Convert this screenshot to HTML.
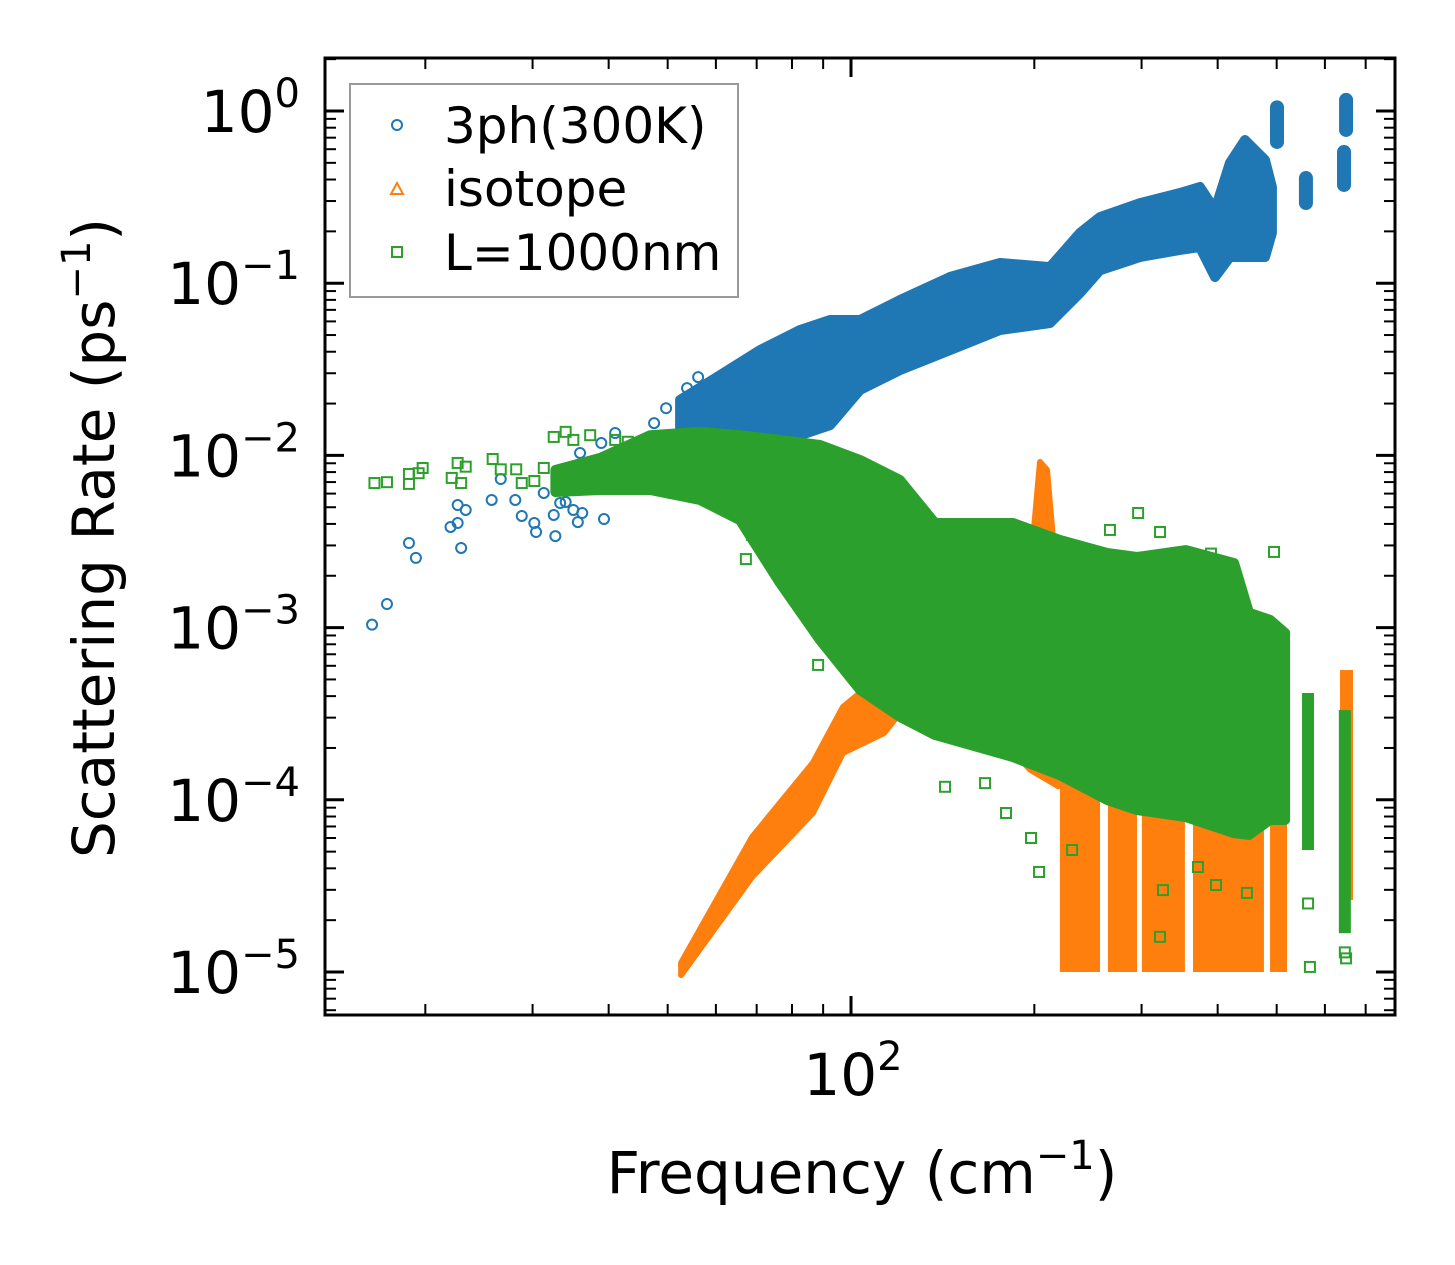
<!DOCTYPE html>
<html><head><meta charset="utf-8">
<style>
html,body{margin:0;padding:0;background:#fff;}
svg{display:block;font-family:"DejaVu Sans","Liberation Sans",sans-serif;}
</style></head>
<body>
<svg id="chart" width="1455" height="1265" viewBox="0 0 1455 1265" xmlns="http://www.w3.org/2000/svg">
<rect x="0" y="0" width="1455" height="1265" fill="#fff"/>
<defs><clipPath id="plotclip"><rect x="325" y="58" width="1070" height="957"/></clipPath></defs>
<g id="marks" clip-path="url(#plotclip)"></g>
<g id="axes"></g>
<rect x="325" y="58" width="1070" height="957" fill="none" stroke="#000" stroke-width="3"/>
<text x="114" y="538" font-size="58" text-anchor="middle" transform="rotate(-90 114 538)">Scattering Rate (ps<tspan font-size="40" dy="-24">−1</tspan><tspan dy="24">)</tspan></text>
<text x="862" y="1193" font-size="58" text-anchor="middle">Frequency (cm<tspan font-size="40" dy="-24">−1</tspan><tspan dy="24">)</tspan></text>
<g>
<rect x="350" y="84" width="388" height="213" fill="#fff" fill-opacity="0.8" stroke="#999" stroke-width="2"/>
<circle cx="397" cy="125" r="5" fill="none" stroke="#1f77b4" stroke-width="2"/>
<text x="444" y="143" font-size="50">3ph(300K)</text>
<polygon points="397,183 403,194 391,194" fill="none" stroke="#ff7f0e" stroke-width="2"/>
<text x="444" y="206" font-size="50">isotope</text>
<rect x="392" y="247" width="10" height="10" fill="none" stroke="#2ca02c" stroke-width="2"/>
<text x="444" y="270" font-size="50">L=1000nm</text>
</g>
</svg>
<script>
// ---- data (frequency in cm^-1, rate in ps^-1) ----
const blueBandFreq=[52.4,61.0,70.9,82.5,92.4,103.5,120.3,145.4,175.7,212.2,237.7,256.4,298.3,346.9,374.0,396.0,419.0,443.6,478.4,491.0];
const blueBandHigh=[0.0210,0.0293,0.0409,0.0535,0.0611,0.0611,0.0798,0.1087,0.131,0.124,0.196,0.242,0.292,0.334,0.362,0.266,0.499,0.679,0.519,0.362];
const blueBandLow=[0.0088,0.0100,0.0123,0.0131,0.0150,0.0240,0.0313,0.0409,0.0535,0.0587,0.0877,0.119,0.142,0.156,0.162,0.1087,0.142,0.142,0.142,0.196];
const blueClusterFreq=[500.6,558.5,650.0,645.0];
const blueClusterHigh=[1.05,0.408,1.16,0.578];
const blueClusterLow=[0.661,0.292,0.776,0.372];
const blueOutFreq=[16.35,17.3,18.8,19.3,22.0,22.6,22.6,23.3,22.9,25.7,26.6,28.1,28.8,30.2,30.4,31.3,32.7,32.5,33.3,34.0,35.0,35.6,36.2,39.3,35.9,38.9,41.0,47.5,49.7,56.1,59.8,53.8,50.5,44.0,46.0,42.5];
const blueOutRate=[1.04e-3,1.37e-3,3.10e-3,2.54e-3,3.84e-3,4.05e-3,5.15e-3,4.82e-3,2.90e-3,5.51e-3,7.29e-3,5.51e-3,4.45e-3,4.05e-3,3.59e-3,6.05e-3,3.40e-3,4.51e-3,5.29e-3,5.36e-3,4.82e-3,4.10e-3,4.63e-3,4.27e-3,0.01033,0.0118,0.01349,0.0154,0.0188,0.0285,0.0256,0.0246,6.05e-3,0.0105,0.0125,0.0095];

const orangeRiseFreq=[52.6,68.8,86.6,97.0,113.3,125.0];
const orangeRiseHigh=[1.13e-5,6.08e-5,1.64e-4,3.46e-4,5.45e-4,7.41e-4];
const orangeRiseLow=[9.6e-6,3.56e-5,8.38e-5,1.87e-4,2.44e-4,3.80e-4];
const orangeMidFreq=[120.3,151.0,182.4,196.7,218.8];
const orangeMidHigh=[7.41e-4,2.47e-3,4.16e-3,2.47e-3,1.89e-3];
const orangeMidLow=[4.0e-4,3.0e-4,2.0e-4,1.5e-4,1.2e-4];
const orangeSpikeFreq=[199.0,204.3,209.8,214.7];
const orangeSpikeHigh=[3.23e-3,9.16e-3,8.23e-3,3.23e-3];
const orangeSpikeLow=[3.8e-4,3.8e-4,3.8e-4,3.8e-4];
const orangeColFreqLo=[220.3,264.2,300.4,364.4,487.6,635.3];
const orangeColFreqHi=[256.4,294.9,353.4,476.5,519.9,667.3];
const orangeColHigh=[1.7e-4,1.7e-4,1.7e-4,1.7e-4,1.7e-4,5.67e-4];
const orangeColLow=[1.0e-5,1.0e-5,1.0e-5,1.0e-5,1.0e-5,2.62e-5];

const greenBandFreq=[32.7,38.7,46.8,56.5,65.7,76.4,88.9,103.5,120.3,137.4,184.5,220.3,263.3,294.9,354.8,425.6,450.3,487.6,516.1];
const greenBandHigh=[8.23e-3,9.66e-3,0.0131,0.0137,0.0131,0.0123,0.0115,9.40e-3,7.20e-3,4.05e-3,4.05e-3,3.23e-3,2.71e-3,2.57e-3,2.82e-3,2.37e-3,1.22e-3,1.11e-3,9.31e-4];
const greenBandLow=[6.13e-3,6.3e-3,6.3e-3,5.51e-3,4.21e-3,1.82e-3,8.47e-4,4.34e-4,3.03e-4,2.38e-4,1.77e-4,1.39e-4,9.97e-5,8.73e-5,7.94e-5,6.41e-5,6.25e-5,7.63e-5,7.63e-5];
const greenStickFreq=[562.9,647.0];
const greenStickHigh=[4.17e-4,3.32e-4];
const greenStickLow=[5.11e-5,1.68e-5];
const greenOutFreq=[16.5,17.3,18.8,18.8,19.5,19.8,22.1,22.6,22.9,23.3,25.8,26.6,28.2,28.8,30.2,31.3,32.5,34.0,35.0,37.3,41.0,43.0,67.2,68.8,88.3,103.1,142.7,166,179.7,197.5,203.6,321.7,296.1,266.2,321.7,495,390,397.5,446.8,371.3,325.3,230.7,567,563,647,650];
const greenOutRate=[6.91e-3,6.99e-3,6.83e-3,7.80e-3,7.88e-3,8.45e-3,7.40e-3,9.04e-3,6.91e-3,8.6e-3,9.53e-3,8.3e-3,8.3e-3,6.91e-3,7.1e-3,8.45e-3,0.0128,0.0137,0.0123,0.0131,0.0123,0.012,2.50e-3,3.45e-3,6.07e-4,5.31e-4,1.19e-4,1.25e-4,8.38e-5,6.0e-5,3.81e-5,1.60e-5,4.63e-3,3.69e-3,3.59e-3,2.75e-3,2.69e-3,3.2e-5,2.88e-5,4.07e-5,2.99e-5,5.11e-5,1.07e-5,2.5e-5,1.3e-5,1.2e-5];

const yTickExps=[0,-1,-2,-3,-4,-5];
const xTickExps=[2];

// ---- axis functions ----
const NS="http://www.w3.org/2000/svg";
function xs(f){return 851+609*Math.log10(f/100);}
function ys(v){return 111-172.2*Math.log10(v);}
const marks=document.getElementById('marks');
const axes=document.getElementById('axes');
function mk(tag,attrs,parent){const e=document.createElementNS(NS,tag);for(const k in attrs)e.setAttribute(k,attrs[k]);(parent||marks).appendChild(e);return e;}
function bandPts(fr,hi,lo){const a=[];for(let i=0;i<fr.length;i++)a.push(xs(fr[i]).toFixed(1)+','+ys(hi[i]).toFixed(1));for(let i=fr.length-1;i>=0;i--)a.push(xs(fr[i]).toFixed(1)+','+ys(lo[i]).toFixed(1));return a.join(' ');}

// blue series
const gBlue=mk('g',{});


let p=mk('polygon',{points:bandPts(blueBandFreq,blueBandHigh,blueBandLow),fill:'#1f77b4',stroke:'#1f77b4','stroke-width':10,'stroke-linejoin':'round'},gBlue);


for(let i=0;i<blueClusterFreq.length;i++){
  const l=mk('line',{x1:xs(blueClusterFreq[i]),x2:xs(blueClusterFreq[i]),y1:ys(blueClusterHigh[i]),y2:ys(blueClusterLow[i]),stroke:'#1f77b4','stroke-width':14,'stroke-linecap':'round'},gBlue);
  
  
}
for(let i=0;i<blueOutFreq.length;i++){
  const c=mk('circle',{cx:xs(blueOutFreq[i]),cy:ys(blueOutRate[i]),r:5,fill:'none',stroke:'#1f77b4','stroke-width':2},gBlue);
  
  
}

// orange series
const gOr=mk('g',{});


[[orangeRiseFreq,orangeRiseHigh,orangeRiseLow],[orangeMidFreq,orangeMidHigh,orangeMidLow],[orangeSpikeFreq,orangeSpikeHigh,orangeSpikeLow]].forEach(b=>{
  const q=mk('polygon',{points:bandPts(b[0],b[1],b[2]),fill:'#ff7f0e',stroke:'#ff7f0e','stroke-width':6,'stroke-linejoin':'round'},gOr);
  
  
});
for(let i=0;i<orangeColFreqLo.length;i++){
  const x0=xs(orangeColFreqLo[i]),x1=xs(orangeColFreqHi[i]),y0=ys(orangeColHigh[i]),y1=ys(orangeColLow[i]);
  const r=mk('rect',{x:x0,y:y0,width:x1-x0,height:y1-y0,fill:'#ff7f0e'},gOr);
  
  
}

// green series
const gGr=mk('g',{});


p=mk('polygon',{points:bandPts(greenBandFreq,greenBandHigh,greenBandLow),fill:'#2ca02c',stroke:'#2ca02c','stroke-width':10,'stroke-linejoin':'round'},gGr);


for(let i=0;i<greenStickFreq.length;i++){
  const x=xs(greenStickFreq[i]);
  const r=mk('rect',{x:x-6,y:ys(greenStickHigh[i]),width:12,height:ys(greenStickLow[i])-ys(greenStickHigh[i]),fill:'#2ca02c'},gGr);
  
  
}
for(let i=0;i<greenOutFreq.length;i++){
  const s=mk('rect',{x:xs(greenOutFreq[i])-5,y:ys(greenOutRate[i])-5,width:10,height:10,fill:'none',stroke:'#2ca02c','stroke-width':2},gGr);
  
  
}

// ---- ticks ----
const L=325,R=1395,T=58,B=1015;
for(let e=-6;e<=0;e++){
  for(let m=1;m<=9;m++){
    const v=m*Math.pow(10,e);const y=ys(v);
    if(y<T+1||y>B-1)continue;
    const len=m===1?19:11;
    const a=mk('line',{x1:L,x2:L+len,y1:y,y2:y,stroke:'#000','stroke-width':m===1?3:2},axes);
    
    
    const b=mk('line',{x1:R,x2:R-len,y1:y,y2:y,stroke:'#000','stroke-width':m===1?3:2},axes);
    
    
  }
}
for(let e=1;e<=2;e++){
  for(let m=1;m<=9;m++){
    const f=m*Math.pow(10,e);const x=xs(f);
    if(x<L+1||x>R-1)continue;
    const len=m===1?19:11;
    const a=mk('line',{x1:x,x2:x,y1:B,y2:B-len,stroke:'#000','stroke-width':m===1?3:2},axes);
    
    
    const b=mk('line',{x1:x,x2:x,y1:T,y2:T+len,stroke:'#000','stroke-width':m===1?3:2},axes);
    
    
  }
}
yTickExps.forEach(e=>{
  const t=mk('text',{x:300,y:ys(Math.pow(10,e))+21,'font-size':58,'text-anchor':'end'},axes);
  
  
  t.innerHTML='10<tspan font-size="40" dy="-25">'+(e<0?'−'+(-e):e)+'</tspan>';
});
xTickExps.forEach(e=>{
  const t=mk('text',{x:xs(Math.pow(10,e))+2,y:1095,'font-size':58,'text-anchor':'middle'},axes);
  
  
  t.innerHTML='10<tspan font-size="40" dy="-25">'+e+'</tspan>';
});
</script>
</body></html>
